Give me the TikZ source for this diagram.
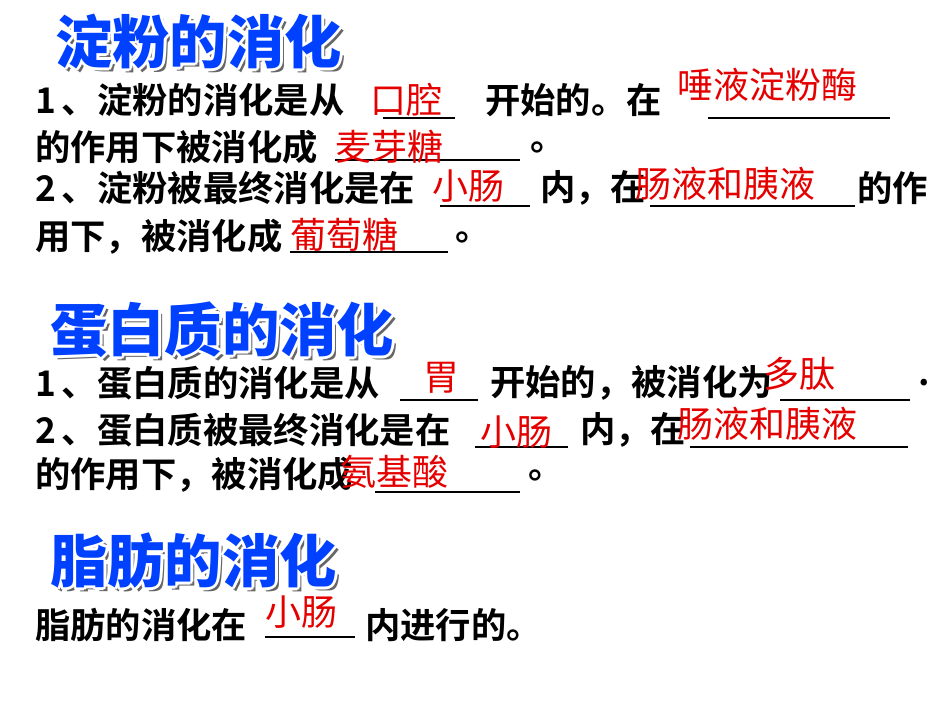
\documentclass[tikz,border=0pt]{standalone}
\usepackage{fontspec}
\newfontfamily\cjk{Noto Sans CJK SC Bold}
\newfontfamily\cjkr{Noto Sans CJK SC}
\newfontfamily\cjkh{Noto Sans CJK SC Black}
\tikzset{
 txt/.style={anchor=west,inner sep=0pt,font=\cjk\fontsize{26.5}{26.5}\selectfont},
 red/.style={txt,text=red!90!black,font=\cjkr\fontsize{27}{27}\selectfont},
 ul/.style={line width=1pt},
 hd/.style={anchor=west,inner sep=0pt,font=\cjkh\fontsize{43}{43}\selectfont}
}
\newcommand{\heading}[4]{%
 \node[hd,text=black!60] at (#1+4,#2+4) {#3};
 \foreach \dx/\dy in {-3/0,3/0,0/-3,0/3,-2/-2,2/2,-2/2,2/-2}
   {\node[hd,text=white] at (#1+\dx,#2+\dy) {#3};}
 \node[hd,text=blue!75!cyan] (#4) at (#1,#2) {#3};}
\begin{document}
\begin{tikzpicture}[x=0.75pt,y=-0.75pt]
\useasboundingbox[fill=white] (0,0) rectangle (950,713);
\heading{55}{42}{淀粉的消化}{h1}
\node[txt] (a1) at (35,100) {1\,、淀粉的消化是从};
\draw[ul] (383,118) coordinate (u1a) -- (455,118) coordinate (u1b);
\node[red] (r1) at (370,100) {口腔};
\node[txt] (a2) at (485,100) {开始的。在};
\draw[ul] (708,118) coordinate (u2a) -- (890,118) coordinate (u2b);
\node[red] (r2) at (677,85) {唾液淀粉酶};
\node[txt] (a3) at (35,147) {的作用下被消化成};
\draw[ul] (335,160) coordinate (u3a) -- (520,160) coordinate (u3b);
\node[red] (r3) at (335,147) {麦芽糖};
\node[txt] (a4) at (530,147) {。};
\node[txt] (b1) at (35,188) {2\,、淀粉被最终消化是在};
\draw[ul] (440,206) coordinate (u4a) -- (530,206) coordinate (u4b);
\node[red] (r4) at (432,186) {小肠};
\node[txt] (b2) at (540,188) {内，在};
\draw[ul] (650,206) coordinate (u5a) -- (855,206) coordinate (u5b);
\node[red] (r5) at (635,184) {肠液和胰液};
\node[txt] (b3) at (857,188) {的作};
\node[txt] (b4) at (35,237) {用下，被消化成};
\draw[ul] (290,252) coordinate (u6a) -- (448,252) coordinate (u6b);
\node[red] (r6) at (290,235) {葡萄糖};
\node[txt] (b5) at (455,237) {。};
\heading{50}{330}{蛋白质的消化}{h2}
\node[txt] (c1) at (35,383) {1\,、蛋白质的消化是从};
\draw[ul] (400,400) coordinate (u7a) -- (478,400) coordinate (u7b);
\node[red] (r7) at (423,378) {胃};
\node[txt] (c2) at (490,383) {开始的，被消化为};
\draw[ul] (780,400) coordinate (u8a) -- (910,400) coordinate (u8b);
\node[red] (r8) at (763,374) {多肽};
\node[txt] (c3) at (918,383) {.};
\node[txt] (d1) at (35,430) {2\,、蛋白质被最终消化是在};
\draw[ul] (475,447) coordinate (u9a) -- (568,447) coordinate (u9b);
\node[red] (r9) at (480,432) {小肠};
\node[txt] (d2) at (580,430) {内，在};
\draw[ul] (690,447) coordinate (u10a) -- (908,447) coordinate (u10b);
\node[red] (r10) at (677,424) {肠液和胰液};
\node[txt] (d3) at (35,475) {的作用下，被消化成};
\draw[ul] (375,492) coordinate (u11a) -- (520,492) coordinate (u11b);
\node[red] (r11) at (340,472) {氨基酸};
\node[txt] (d4) at (528,475) {。};
\heading{50}{560}{脂肪的消化}{h3}
\node[txt] (e1) at (35,625) {脂肪的消化在};
\draw[ul] (265,637) coordinate (u12a) -- (355,637) coordinate (u12b);
\node[red] (r12) at (265,612) {小肠};
\node[txt] (e2) at (365,625) {内进行的。};
\end{tikzpicture}
\end{document}
